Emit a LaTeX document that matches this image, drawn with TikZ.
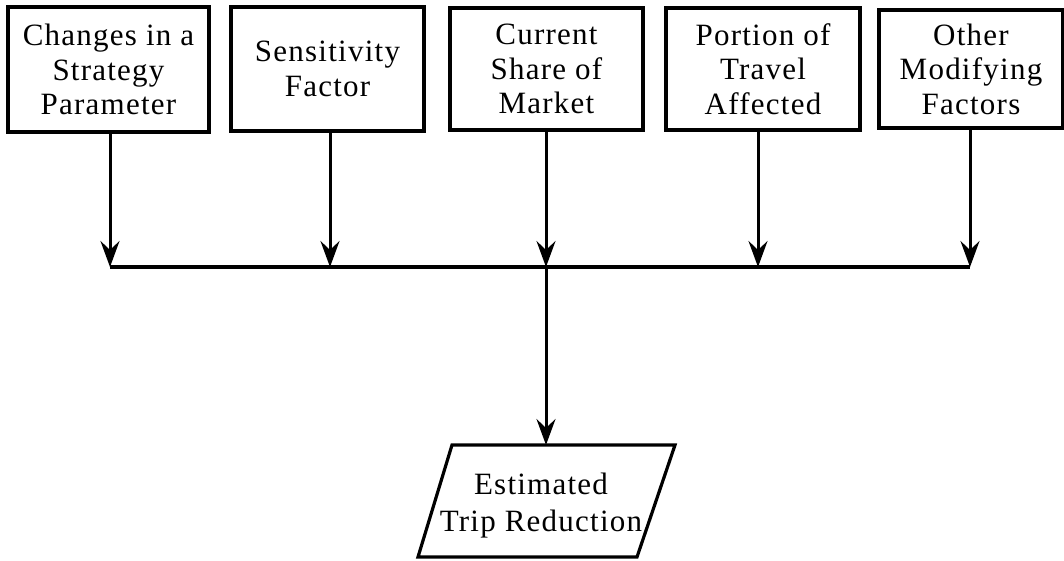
\documentclass[tikz,border=0pt]{standalone}
\usepackage{fontspec}
\setmainfont[LetterSpace=4]{Liberation Serif}
\usetikzlibrary{arrows.meta}
\begin{document}
\begin{tikzpicture}[x=1pt,y=-1pt,
  line width=3.2pt,
  factor/.style={draw, rectangle, inner sep=0pt, align=center, line width=3.2pt,
    font=\fontsize{31}{34.5}\selectfont},
  flow/.style={-{Stealth[length=26pt,width=19pt,inset=9pt]}, line width=3pt},
  link/.style={line width=3.2pt}]
\useasboundingbox (0,0) rectangle (1064,561);

% input factors
\node[factor, minimum width=201pt, minimum height=125pt] (b1) at (108.5,69.5)
  {Changes in a\\Strategy\\Parameter};
\node[factor, minimum width=193pt, minimum height=124pt] (b2) at (327.5,69)
  {Sensitivity\\Factor};
\node[factor, minimum width=193pt, minimum height=122pt] (b3) at (546.5,69)
  {Current\\Share of\\Market};
\node[factor, minimum width=194pt, minimum height=122pt] (b4) at (763,69)
  {Portion of\\Travel\\Affected};
\node[factor, minimum width=184pt, minimum height=118pt] (b5) at (971,69)
  {Other\\Modifying\\Factors};

% collecting bar
\coordinate (j1) at (110,267);
\coordinate (j2) at (330,267);
\coordinate (j3) at (546,267);
\coordinate (j4) at (758,267);
\coordinate (j5) at (970,267);

\draw[flow] (b1.south -| j1) -- (j1);
\draw[flow] (b2.south -| j2) -- (j2);
\draw[flow] (b3.south -| j3) -- (j3);
\draw[flow] (b4.south -| j4) -- (j4);
\draw[flow] (b5.south -| j5) -- (j5);
\draw[link] (j1) -- (j5);

% result
\coordinate (p1) at (452,445);
\coordinate (p2) at (675,445);
\coordinate (p3) at (637,557);
\coordinate (p4) at (418,557);
\draw[line width=3.2pt, line join=miter] (p1) -- (p2) -- (p3) -- (p4) -- cycle;
\node[align=center, inner sep=0pt, font=\fontsize{31}{37}\selectfont] (res) at (541,506)
  {Estimated\\Trip Reduction};
\coordinate (rtop) at (546,445);
\draw[flow] (j3) -- (rtop);
\end{tikzpicture}
\end{document}
